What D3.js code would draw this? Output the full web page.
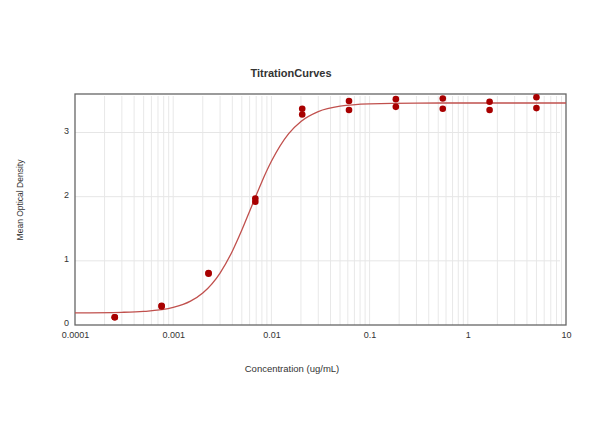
<!DOCTYPE html>
<html>
<head>
<meta charset="utf-8">
<script src="https://cdn.jsdelivr.net/npm/d3@7"></script>
<style>
  body { margin: 0; background: #fff; }
  svg { font-family: "Liberation Sans", Arial, sans-serif; }
</style>
</head>
<body>
<svg id="chart" width="600" height="447"></svg>
<script>
// 3-fold dilution series, duplicate wells
const concentrations = [0.000254, 0.000762, 0.00229, 0.00686, 0.0206, 0.0617, 0.185, 0.556, 1.667, 5];
const odRep1 = [0.12, 0.30, 0.81, 1.97, 3.37, 3.49, 3.52, 3.53, 3.48, 3.55];
const odRep2 = [0.12, 0.29, 0.80, 1.92, 3.28, 3.35, 3.40, 3.37, 3.35, 3.38];

// fitted curve
const curveConc = [0.0001, 0.0003, 0.0005, 0.001, 0.0015, 0.002, 0.003, 0.004, 0.005, 0.006, 0.007, 0.008, 0.01, 0.015, 0.02, 0.03, 0.05, 0.1, 0.3, 1, 10];
const curveOD = [0.19, 0.198, 0.211, 0.273, 0.371, 0.498, 0.81, 1.15, 1.479, 1.772, 2.022, 2.234, 2.551, 2.983, 3.173, 3.326, 3.411, 3.447, 3.459, 3.46, 3.46];

const xTicks = [0.0001, 0.001, 0.01, 0.1, 1, 10];
const xTickLabels = ['0.0001', '0.001', '0.01', '0.1', '1', '10'];
const yTicks = [0, 1, 2, 3];

const svg = d3.select('#chart'),
    plot = {left: 75, right: 566, top: 94, bottom: 325};

const x = d3.scaleLog().domain([0.0001, 10]).range([plot.left, plot.right]);
const y = d3.scaleLinear().domain([0, 3.6]).range([plot.bottom, plot.top]);

// minor log grid
const minor = [];
for (let e = -4; e < 1; e++) {
  for (let m = 1; m < 10; m++) minor.push(m * Math.pow(10, e));
}

svg.append('g')
  .selectAll('line')
  .data(minor.filter(d => d > 0.0001))
  .join('line')
  .attr('x1', d => x(d)).attr('x2', d => x(d))
  .attr('y1', plot.top + 2).attr('y2', plot.bottom)
  .attr('stroke', '#e8e8e8')
  .attr('stroke-width', 1);

svg.append('g')
  .selectAll('line')
  .data(yTicks.filter(d => d > 0))
  .join('line')
  .attr('x1', plot.left).attr('x2', plot.right - 6)
  .attr('y1', d => y(d)).attr('y2', d => y(d))
  .attr('stroke', '#e6e6e6')
  .attr('stroke-width', 1);

// frame
svg.append('rect')
  .attr('x', plot.left).attr('y', plot.top)
  .attr('width', plot.right - plot.left).attr('height', plot.bottom - plot.top)
  .attr('fill', 'none')
  .attr('stroke', '#666')
  .attr('stroke-width', 1.3);

// axes labels
svg.append('g')
  .attr('transform', `translate(0,${plot.bottom})`)
  .call(d3.axisBottom(x).tickValues(xTicks).tickFormat((d, i) => xTickLabels[i]).tickSize(0).tickPadding(7))
  .call(g => g.select('.domain').remove())
  .selectAll('text')
  .attr('font-size', 9)
  .attr('fill', '#333')
  .attr('font-family', '"Liberation Sans", Arial, sans-serif');

svg.append('g')
  .attr('transform', `translate(${plot.left},-2)`)
  .call(d3.axisLeft(y).tickValues(yTicks).tickFormat(d3.format('d')).tickSize(0).tickPadding(6))
  .call(g => g.select('.domain').remove())
  .selectAll('text')
  .attr('font-size', 9)
  .attr('fill', '#333')
  .attr('font-family', '"Liberation Sans", Arial, sans-serif');

// fitted line
const line = d3.line()
  .x((d, i) => x(curveConc[i]))
  .y(d => y(d))
  .curve(d3.curveMonotoneX);

svg.append('path')
  .datum(curveOD)
  .attr('fill', 'none')
  .attr('stroke', '#c0504d')
  .attr('stroke-width', 1.3)
  .attr('d', line);

// points
[odRep1, odRep2].forEach(rep => {
  svg.append('g')
    .selectAll('circle')
    .data(rep)
    .join('circle')
    .attr('cx', (d, i) => x(concentrations[i]))
    .attr('cy', d => y(d))
    .attr('r', 3.3)
    .attr('fill', '#a80000');
});

svg.append('text')
  .attr('x', 291).attr('y', 77)
  .attr('text-anchor', 'middle')
  .attr('font-size', 11)
  .attr('font-weight', 'bold')
  .attr('fill', '#333')
  .text('TitrationCurves');

svg.append('text')
  .attr('x', 292).attr('y', 372)
  .attr('text-anchor', 'middle')
  .attr('font-size', 9.5)
  .attr('fill', '#333')
  .text('Concentration (ug/mL)');

svg.append('text')
  .attr('transform', 'translate(23,200) rotate(-90)')
  .attr('text-anchor', 'middle')
  .attr('font-size', 8.5)
  .attr('fill', '#333')
  .text('Mean Optical Density');
</script>
</body>
</html>
